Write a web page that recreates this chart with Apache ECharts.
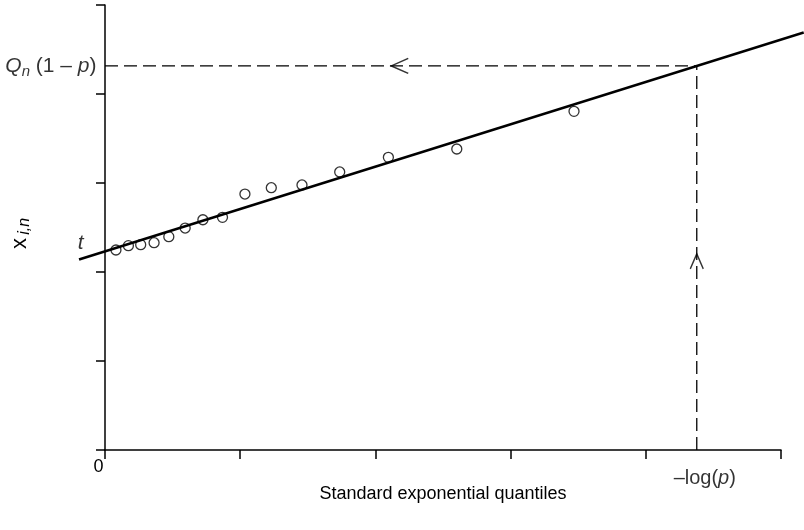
<!DOCTYPE html>
<html>
<head>
<meta charset="utf-8">
<script src="https://cdn.jsdelivr.net/npm/echarts@6/dist/echarts.min.js"></script>
<style>
html,body{margin:0;padding:0;background:#fff;}
#chart{width:804px;height:530px;}
</style>
</head>
<body>
<div id="chart"></div>
<script>
// ---- data ----
const xQuantiles = [0.081, 0.173, 0.264, 0.363, 0.472, 0.593, 0.724, 0.869, 1.035, 1.230, 1.457, 1.736, 2.096, 2.602, 3.469];
const yValues    = [2.247, 2.296, 2.307, 2.329, 2.397, 2.494, 2.587, 2.614, 2.876, 2.947, 2.978, 3.124, 3.288, 3.382, 3.805];
const fitLineX = [-0.192, 5.168];
const fitLineY = [2.14, 4.69];
const negLogP = 4.377;      // position of -log(p) on x
const quantileQ = 4.315;    // Q_n(1-p) level on y
const xTicks = [0, 1, 2, 3, 4, 5];
const yTicks = [0, 1, 2, 3, 4, 5];
const xTickLabels = ['0', '', '', '', '', ''];
const arrowLeftAt = [2.18, quantileQ];
const arrowUpAt = [negLogP, 2.12];
const tLabelAt = [0, 2.32];

const FONT = '"Liberation Sans", Arial, sans-serif';
const chart = echarts.init(document.getElementById('chart'), null, {renderer: 'canvas'});

const points = xQuantiles.map((x, i) => [x, yValues[i]]);
const fitLine = fitLineX.map((x, i) => [x, fitLineY[i]]);

const hiddenAxis = {show: false, axisLine: {show: false}, axisTick: {show: false}, axisLabel: {show: false}, splitLine: {show: false}};

const option = {
  backgroundColor: '#fff',
  animation: false,
  textStyle: {fontFamily: FONT, color: '#000'},
  grid: [
    {left: 105, right: 23, top: 5, bottom: 80, containLabel: false, outerBoundsMode: 'none'},
    // wider frame with the same scale, so the fitted line can run past the axes
    {left: 105 + fitLineX[0] * 135.2, right: 804 - 105 - fitLineX[1] * 135.2, top: 5, bottom: 80, containLabel: false, outerBoundsMode: 'none'}
  ],
  xAxis: [{
    type: 'value', min: xTicks[0], max: xTicks[xTicks.length - 1], interval: 1, gridIndex: 0,
    name: 'Standard exponential quantiles', nameLocation: 'middle', nameGap: 35,
    nameTextStyle: {fontSize: 18, color: '#000', fontFamily: FONT},
    axisLine: {show: true, onZero: false, lineStyle: {color: '#000', width: 1.5}},
    axisTick: {show: true, length: 9, lineStyle: {color: '#000', width: 1.5}},
    axisLabel: {
      show: true, fontSize: 18, color: '#000', margin: 8, padding: [0, 13, 0, 0],
      formatter: v => { const i = xTicks.indexOf(v); return i >= 0 ? xTickLabels[i] : ''; }
    },
    splitLine: {show: false}
  }, Object.assign({type: 'value', gridIndex: 1, min: fitLineX[0], max: fitLineX[1]}, hiddenAxis)],
  yAxis: [{
    type: 'value', min: yTicks[0], max: yTicks[yTicks.length - 1], interval: 1, gridIndex: 0,
    name: '{x|x} {s|i,n}', nameLocation: 'middle', nameGap: 72, nameRotate: 90,
    nameTextStyle: {
      fontFamily: FONT, color: '#000', padding: [0, 12, 0, 0],
      rich: {
        x: {fontSize: 22, fontFamily: FONT, color: '#000', lineHeight: 26},
        s: {fontSize: 16, fontStyle: 'italic', fontFamily: FONT, color: '#000', lineHeight: 16, verticalAlign: 'bottom', padding: [6, 0, 0, 0]}
      }
    },
    axisLine: {show: true, onZero: false, lineStyle: {color: '#000', width: 1.5}},
    axisTick: {show: true, length: 9, lineStyle: {color: '#000', width: 1.5}},
    axisLabel: {show: false},
    splitLine: {show: false}
  }, Object.assign({type: 'value', gridIndex: 1, min: yTicks[0], max: yTicks[yTicks.length - 1]}, hiddenAxis)],
  series: [
    {
      type: 'line', data: [[-0.067, 0], [0, 0]], symbol: 'none', clip: false, silent: true,
      lineStyle: {color: '#000', width: 1.5}
    },
    {
      type: 'line', data: [[0, quantileQ], [negLogP, quantileQ]], symbol: 'none', silent: true,
      lineStyle: {color: '#000', width: 1.3, type: [13, 6]}
    },
    {
      type: 'line', data: [[negLogP, 0], [negLogP, quantileQ]], symbol: 'none', silent: true,
      lineStyle: {color: '#000', width: 1.3, type: [13, 6]}
    },
    {
      type: 'line', data: fitLine, symbol: 'none', silent: true, xAxisIndex: 1, yAxisIndex: 1,
      lineStyle: {color: '#000', width: 2.6}
    },
    {
      type: 'scatter', data: points, symbol: 'circle', symbolSize: 10, silent: true,
      itemStyle: {color: '#fff', borderColor: '#000', borderWidth: 1.3}
    },
    {
      type: 'scatter', data: [arrowLeftAt], symbol: 'path://M17,0 L0,7.5 L17,15', symbolSize: [17, 15],
      silent: true, itemStyle: {color: 'none', borderColor: '#000', borderWidth: 1.5}
    },
    {
      type: 'scatter', data: [arrowUpAt], symbol: 'path://M0,15 L6.5,0 L13,15', symbolSize: [13, 15],
      silent: true, itemStyle: {color: 'none', borderColor: '#000', borderWidth: 1.5}
    },
    {
      type: 'scatter', symbol: 'circle', symbolSize: 1, silent: true, clip: false,
      itemStyle: {color: 'rgba(0,0,0,0)'},
      data: [
        {value: [0, quantileQ], label: {show: true, position: 'left', distance: 8,
          formatter: '{i|Q}{s|n} {n|(1 – }{i|p}{n|)}'}},
        {value: tLabelAt, label: {show: true, position: 'left', distance: 21,
          formatter: '{i|t}'}},
        {value: [negLogP, 0], label: {show: true, position: 'bottom', distance: 16, offset: [8, 0],
          formatter: '{m|–log(}{j|p}{m|)}'}}
      ],
      label: {
        show: true, fontFamily: FONT, fontSize: 21, color: '#000',
        rich: {
          n: {fontSize: 21, fontFamily: FONT, color: '#000', lineHeight: 26},
          i: {fontSize: 21, fontStyle: 'italic', fontFamily: FONT, color: '#000', lineHeight: 26},
          m: {fontSize: 20, fontFamily: FONT, color: '#000', lineHeight: 24},
          j: {fontSize: 20, fontStyle: 'italic', fontFamily: FONT, color: '#000', lineHeight: 24},
          s: {fontSize: 15, fontStyle: 'italic', fontFamily: FONT, color: '#000', lineHeight: 15, verticalAlign: 'bottom', padding: [8, 0, 0, 0]}
        }
      }
    }
  ]
};
chart.setOption(option);
</script>
</body>
</html>
